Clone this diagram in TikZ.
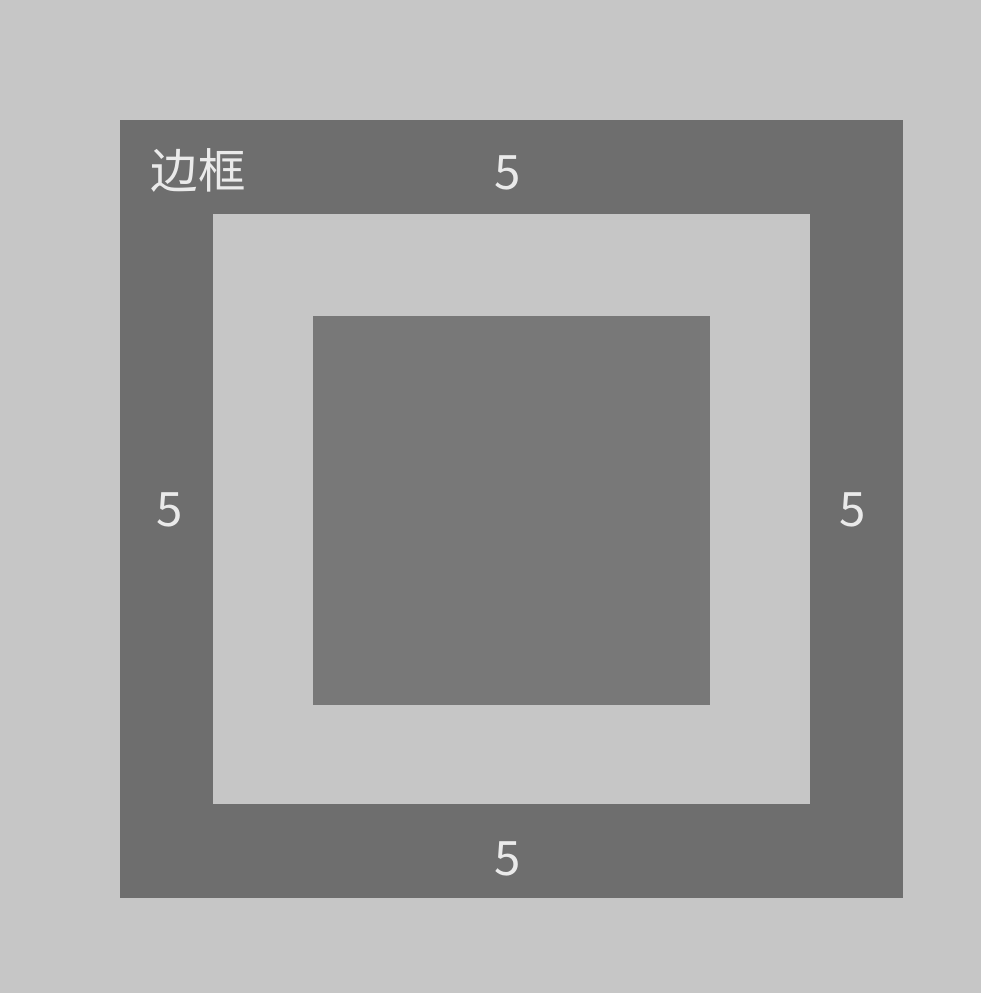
\documentclass[tikz,border=0pt]{standalone}
\usepackage{fontspec}
\newfontfamily\cjk{Noto Sans CJK SC}
\definecolor{bg}{HTML}{C6C6C6}
\definecolor{darkb}{HTML}{6E6E6E}
\definecolor{innerd}{HTML}{787878}
\definecolor{txt}{HTML}{EAEAEA}
\begin{document}
\begin{tikzpicture}[x=0.02cm,y=-0.02cm,
  lbl/.style={text=txt,font=\cjk\fontsize{27}{30}\selectfont,inner sep=0pt,anchor=center}]
\useasboundingbox (0,0) rectangle (980,993);
\fill[bg] (-10,-10) rectangle (990,1003);
\fill[darkb] (120,120) rectangle (903,898);
\fill[bg] (213,214) rectangle (810,804);
\fill[innerd] (313,316) rectangle (710,705);
\node[lbl] (title) at (198,170) {边框};
\node[lbl] (top) at (508,173) {5};
\node[lbl] (left) at (170,510) {5};
\node[lbl] (right) at (853,510) {5};
\node[lbl] (bottom) at (508,859) {5};
\end{tikzpicture}
\end{document}
